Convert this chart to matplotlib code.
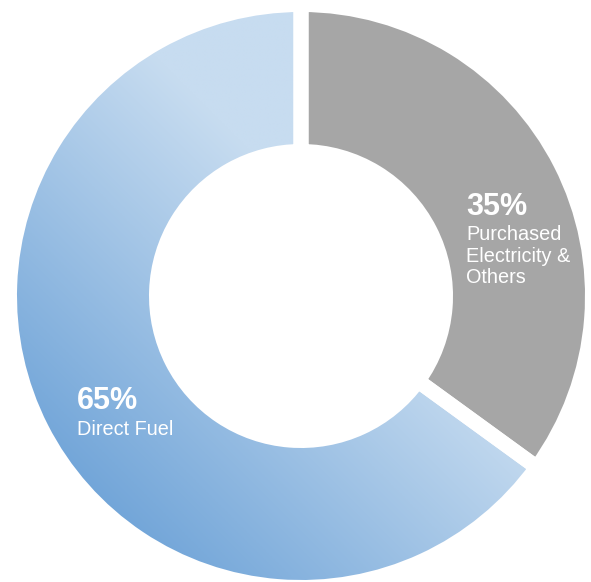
import numpy as np
import matplotlib
matplotlib.use('Agg')
import matplotlib.pyplot as plt
from matplotlib.colors import LinearSegmentedColormap

plt.rcParams['font.family'] = ['Liberation Sans', 'DejaVu Sans']

# 데이터
shares = [35, 65]
pct_labels = ['35%', '65%']
names = ['Purchased\nElectricity &\nOthers', 'Direct Fuel']
gray = '#a6a6a6'

W, H = 591, 582
fig = plt.figure(figsize=(W / 100, H / 100), dpi=100)
ax = fig.add_axes([0, 0, 1, 1])

cx, cy, R = 301, H - 296, 291.5
wedges, _ = ax.pie(shares, startangle=90, counterclock=False,
                   colors=[gray, 'none'], explode=[0.008, 0],
                   radius=R, center=(cx, cy), frame=True,
                   wedgeprops=dict(width=147, edgecolor='white',
                                   linewidth=10.8))
ax.set_xlim(0, W)
ax.set_ylim(0, H)
ax.axis('off')

# 파란 조각 그라데이션 (왼쪽 아래 진하게 -> 오른쪽 위 연하게)
cmap = LinearSegmentedColormap.from_list('blu', ['#659dd5', '#c7dcf0'])
xs = np.linspace(cx - R, cx + R, 400)
ys = np.linspace(cy - R, cy + R, 400)
X, Y = np.meshgrid(xs, ys)
t = X - (H - Y)
g = np.clip((t + 480) / 580, 0, 1)
im = ax.imshow(g, cmap=cmap, vmin=0, vmax=1, origin='lower',
               extent=[cx - R, cx + R, cy - R, cy + R], zorder=1,
               interpolation='bilinear')
im.set_clip_path(wedges[1])
for w in wedges:
    w.set_zorder(2)
ax.set_aspect('equal')

# 라벨
ax.text(466, H - 215, pct_labels[0], color='white', fontsize=22,
        fontweight='bold', ha='left', va='baseline', zorder=5)
ax.text(466, H - 225, names[0], color='white', fontsize=14.3,
        ha='left', va='top', linespacing=1.17, zorder=5)
ax.text(77, H - 409, pct_labels[1], color='white', fontsize=22,
        fontweight='bold', ha='left', va='baseline', zorder=5)
ax.text(77, H - 435, names[1], color='white', fontsize=14.3,
        ha='left', va='baseline', zorder=5)

fig.savefig('out.png', dpi=100, facecolor='white')
